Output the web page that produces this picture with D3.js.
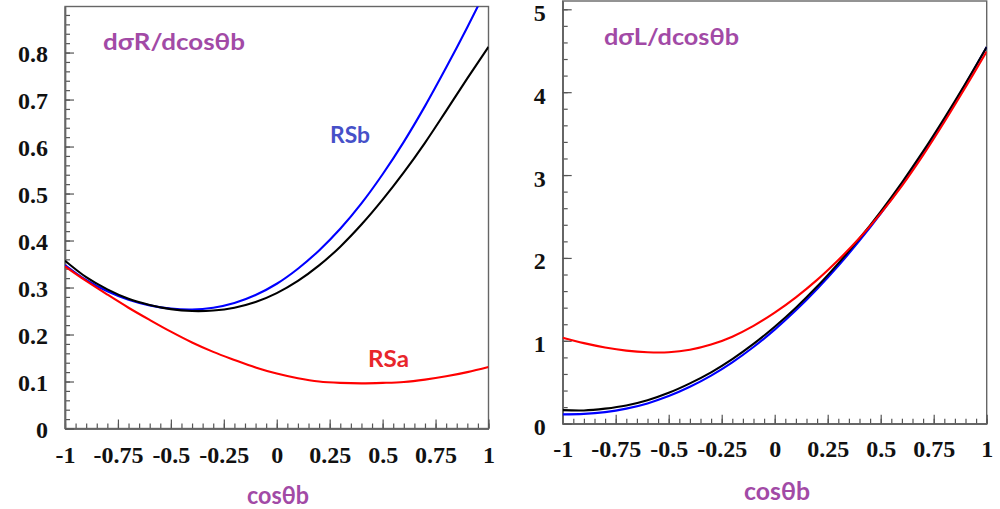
<!DOCTYPE html>
<html>
<head>
<meta charset="utf-8">
<script src="https://cdn.jsdelivr.net/npm/d3@7"></script>
<style>
  html, body { margin: 0; padding: 0; background: #fff; }
  svg { display: block; }
</style>
</head>
<body>
<svg id="chart" width="1000" height="509"></svg>
<script>
// cos(theta_b) sample points shared by every curve
const cosTheta = [-1.0, -0.9, -0.8, -0.7, -0.6, -0.5, -0.4, -0.3, -0.2, -0.1, 0.0,
                   0.1, 0.2, 0.3, 0.4, 0.5, 0.6, 0.7, 0.8, 0.9, 1.0];

// dσR/dcosθb
const smR  = [0.357, 0.322, 0.296, 0.276, 0.263, 0.254, 0.250, 0.251, 0.257, 0.269, 0.288,
              0.314, 0.347, 0.387, 0.434, 0.487, 0.545, 0.608, 0.676, 0.745, 0.812];
const rsbR = [0.348, 0.316, 0.292, 0.274, 0.262, 0.255, 0.253, 0.257, 0.267, 0.284, 0.308,
              0.340, 0.379, 0.425, 0.479, 0.541, 0.610, 0.686, 0.768, 0.854, 0.944];
const rsaR = [0.345, 0.314, 0.285, 0.257, 0.231, 0.206, 0.183, 0.163, 0.146, 0.130, 0.117,
              0.107, 0.100, 0.097, 0.096, 0.097, 0.099, 0.104, 0.111, 0.120, 0.131];

// dσL/dcosθb
const smL  = [0.164, 0.160, 0.182, 0.220, 0.283, 0.373, 0.487, 0.620, 0.780, 0.963, 1.170,
              1.400, 1.655, 1.935, 2.235, 2.560, 2.910, 3.285, 3.685, 4.105, 4.545];
const rsbL = [0.113, 0.118, 0.140, 0.182, 0.245, 0.333, 0.445, 0.580, 0.740, 0.925, 1.135,
              1.368, 1.625, 1.905, 2.208, 2.535, 2.885, 3.262, 3.665, 4.095, 4.545];
const rsaL = [1.037, 0.972, 0.920, 0.882, 0.862, 0.862, 0.892, 0.955, 1.050, 1.180, 1.340,
              1.525, 1.735, 1.975, 2.240, 2.538, 2.870, 3.240, 3.640, 4.060, 4.490];

// axis tick values and labels
const xMajor = [-1, -0.75, -0.5, -0.25, 0, 0.25, 0.5, 0.75, 1];
const xLabels = ["-1", "-0.75", "-0.5", "-0.25", "0", "0.25", "0.5", "0.75", "1"];
const yMajorR = [0, 0.1, 0.2, 0.3, 0.4, 0.5, 0.6, 0.7, 0.8];
const yLabelsR = ["0", "0.1", "0.2", "0.3", "0.4", "0.5", "0.6", "0.7", "0.8"];
const yMajorL = [0, 1, 2, 3, 4, 5];
const yLabelsL = ["0", "1", "2", "3", "4", "5"];

const titles = ["dσR/dcosθb", "dσL/dcosθb"];
const xTitle = "cosθb";
const curveLabels = ["RSb", "RSa"];

const colors = { sm: "#000000", rsb: "#0000ff", rsa: "#ff0000" };
const purple = "#a24aa6";

const svg = d3.select("#chart");

function range(a, b, step) {
  const out = [];
  const n = Math.round((b - a) / step);
  for (let i = 0; i <= n; i++) out.push(+(a + i * step).toFixed(4));
  return out;
}

function panel(cfg) {
  const x = d3.scaleLinear().domain([-1, 1]).range([cfg.x0, cfg.x1]);
  const y = d3.scaleLinear().domain([0, cfg.yTop]).range([cfg.y0, cfg.y1]);
  const g = svg.append("g");

  const clipId = "clip" + cfg.id;
  svg.append("defs").append("clipPath").attr("id", clipId)
    .append("rect")
    .attr("x", cfg.x0).attr("y", cfg.y1)
    .attr("width", cfg.x1 - cfg.x0).attr("height", cfg.y0 - cfg.y1);

  // frame
  g.append("rect")
    .attr("x", cfg.x0).attr("y", cfg.y1)
    .attr("width", cfg.x1 - cfg.x0).attr("height", cfg.y0 - cfg.y1)
    .attr("fill", "none").attr("stroke", "#666").attr("stroke-width", 1.4);

  // minor ticks
  const xMinor = d3.axisBottom(x).tickValues(range(-1, 1, 0.05))
    .tickSize(-5).tickSizeOuter(0).tickFormat("");
  const yMinor = d3.axisLeft(y).tickValues(cfg.yMinor)
    .tickSize(-5).tickSizeOuter(0).tickFormat("");
  g.append("g").attr("transform", `translate(0,${cfg.y0})`).call(xMinor);
  g.append("g").attr("transform", `translate(${cfg.x0},0)`).call(yMinor);

  // major ticks with labels
  const xAxis = d3.axisBottom(x).tickValues(xMajor).tickSize(-9).tickSizeOuter(0)
    .tickPadding(cfg.xPad).tickFormat((d, i) => xLabels[i]);
  const yAxis = d3.axisLeft(y).tickValues(cfg.yMajor).tickSize(-9).tickSizeOuter(0)
    .tickPadding(17).tickFormat((d, i) => cfg.yLabels[i]);
  g.append("g").attr("class", "xa").attr("transform", `translate(0,${cfg.y0})`).call(xAxis);
  g.append("g").attr("class", "ya").attr("transform", `translate(${cfg.x0},0)`).call(yAxis);

  g.selectAll(".domain").attr("stroke", "#666").attr("stroke-width", 1.4);
  g.selectAll(".tick line").attr("stroke", "#555").attr("stroke-width", 1.2);
  g.selectAll(".tick text")
    .attr("font-family", "'Liberation Serif', 'Times New Roman', serif")
    .attr("font-weight", "bold").attr("font-size", 24).attr("fill", "#111");
  g.selectAll(".ya .tick text").attr("dy", cfg.yDy);

  // curves
  const line = d3.line()
    .x((d, i) => x(cosTheta[i]))
    .y(d => y(d))
    .curve(d3.curveCatmullRom.alpha(0.5));
  const curves = g.append("g").attr("clip-path", `url(#${clipId})`);
  cfg.series.forEach(s => {
    curves.append("path").datum(s.values)
      .attr("d", line).attr("fill", "none")
      .attr("stroke", s.color).attr("stroke-width", 2.1);
  });

  // panel title
  g.append("text")
    .attr("x", cfg.title.x).attr("y", cfg.title.y)
    .attr("textLength", cfg.title.w).attr("lengthAdjust", "spacingAndGlyphs")
    .attr("font-family", "Lato, 'Open Sans', sans-serif").attr("font-weight", "bold")
    .attr("font-size", 23).attr("fill", purple).text(cfg.title.text);

  // x-axis title
  g.append("text")
    .attr("x", cfg.xt.x).attr("y", cfg.xt.y)
    .attr("textLength", cfg.xt.w).attr("lengthAdjust", "spacingAndGlyphs")
    .attr("font-family", "Lato, 'Open Sans', sans-serif").attr("font-weight", "bold")
    .attr("font-size", 24).attr("fill", purple).text(xTitle);

  return { x, y, g };
}

const left = panel({
  id: "R", x0: 65, x1: 488.5, y0: 428.5, y1: 6.5, yTop: 0.898,
  yMajor: yMajorR, yLabels: yLabelsR, yMinor: range(0, 0.88, 0.02), xPad: 17,
  yDy: "0.38em",
  series: [
    { values: rsbR, color: colors.rsb },
    { values: smR, color: colors.sm },
    { values: rsaR, color: colors.rsa }
  ],
  title: { text: titles[0], x: 103, y: 50, w: 142 },
  xt: { x: 247, y: 504, w: 62 }
});

const right = panel({
  id: "L", x0: 562.7, x1: 986.7, y0: 423.7, y1: 1, yTop: 5.1,
  yMajor: yMajorL, yLabels: yLabelsL, yMinor: range(0, 5, 0.2), xPad: 16.2,
  yDy: "0.46em",
  series: [
    { values: rsbL, color: colors.rsb },
    { values: smL, color: colors.sm },
    { values: rsaL, color: colors.rsa }
  ],
  title: { text: titles[1], x: 604, y: 45, w: 135 },
  xt: { x: 744, y: 500, w: 66 }
});

// curve annotations in the left panel
left.g.append("text")
  .attr("x", 330).attr("y", 143).attr("textLength", 40).attr("lengthAdjust", "spacingAndGlyphs")
  .attr("font-family", "Lato, 'Open Sans', sans-serif").attr("font-weight", "bold")
  .attr("font-size", 22).attr("fill", "#4650c8").text(curveLabels[0]);
left.g.append("text")
  .attr("x", 368).attr("y", 367).attr("textLength", 41).attr("lengthAdjust", "spacingAndGlyphs")
  .attr("font-family", "Lato, 'Open Sans', sans-serif").attr("font-weight", "bold")
  .attr("font-size", 22).attr("fill", "#e8262b").text(curveLabels[1]);
</script>
</body>
</html>
